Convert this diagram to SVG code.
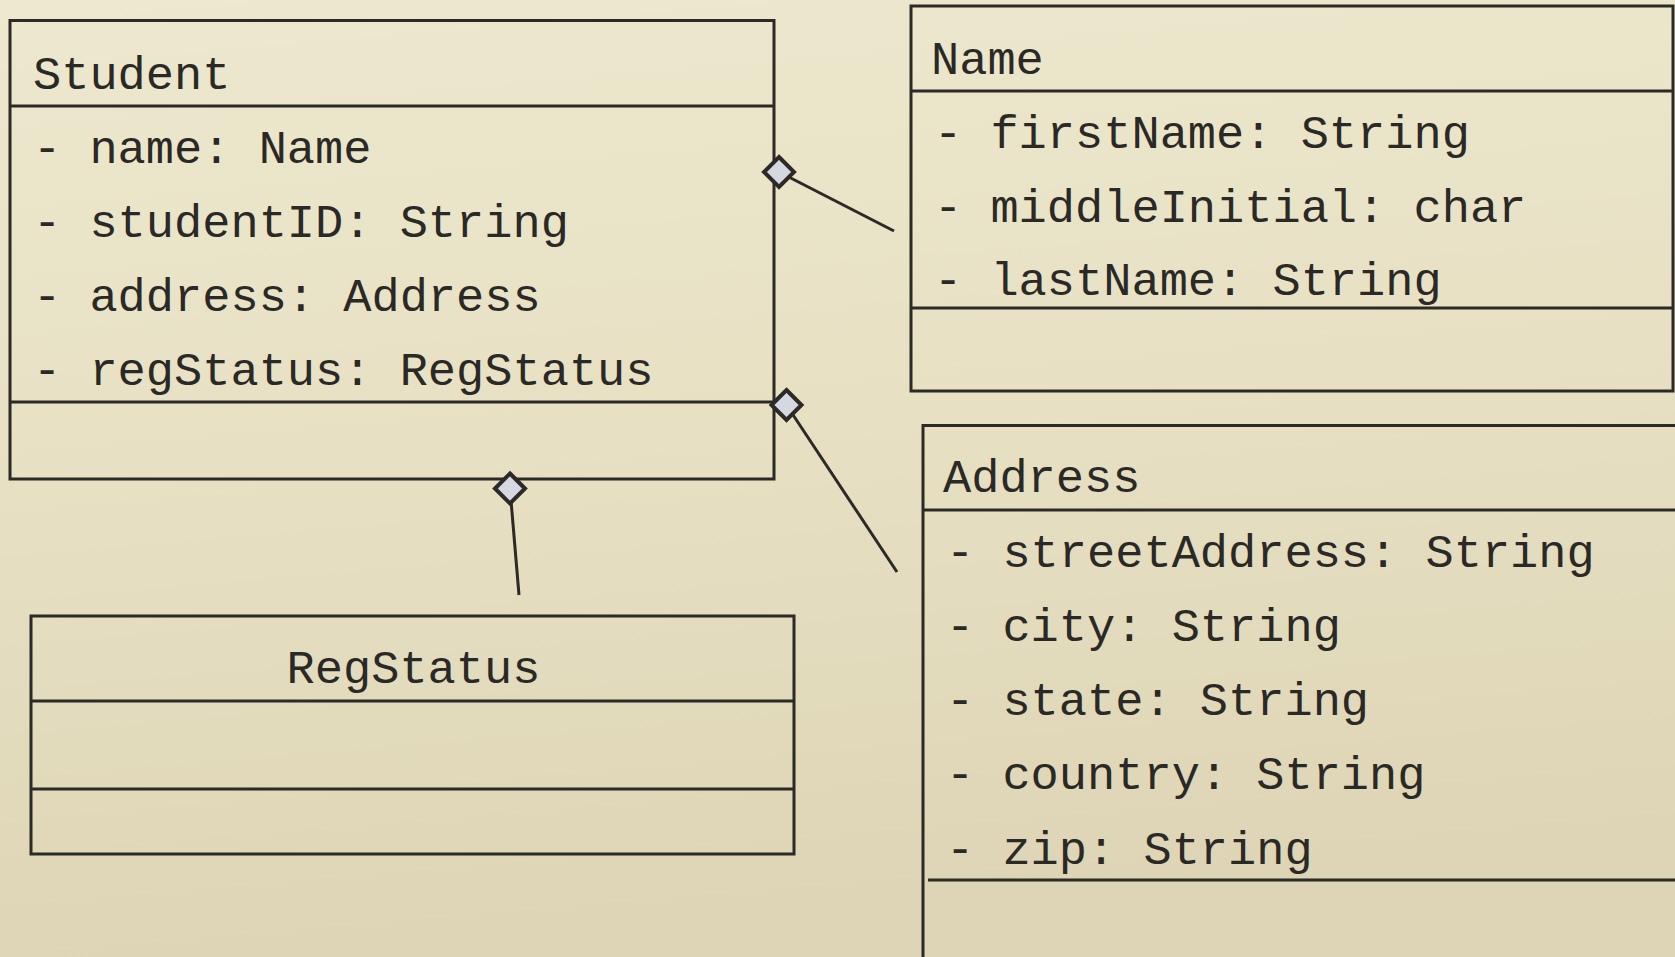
<svg xmlns="http://www.w3.org/2000/svg" width="1675" height="957" viewBox="0 0 1675 957">
  <defs>
    <linearGradient id="bg" x1="0" y1="0" x2="0.15" y2="1">
      <stop offset="0" stop-color="#ede8ce"/>
      <stop offset="0.5" stop-color="#e7e0c3"/>
      <stop offset="1" stop-color="#ddd5b5"/>
    </linearGradient>
    <style>
      .box { fill: none; stroke: #2b2a26; stroke-width: 3; }
      .div { stroke: #2b2a26; stroke-width: 3; }
      .t { font-family: "Liberation Mono", "Courier New", monospace; font-size: 47px; fill: #2a2926; }
      .conn { stroke: #2b2a26; stroke-width: 3; fill: none; }
      .dia { fill: #d5d8e1; stroke: #2b2a26; stroke-width: 4; stroke-linejoin: miter; }
    </style>
  </defs>
  <rect x="0" y="0" width="1675" height="957" fill="url(#bg)"/>

  <g id="connectors">
    <line class="conn" x1="779" y1="172" x2="894" y2="231"/>
    <line class="conn" x1="786.5" y1="405" x2="897" y2="572"/>
    <line class="conn" x1="510" y1="488.5" x2="519" y2="595"/>
  </g>

  <g id="Student">
    <rect class="box" x="10" y="20.5" width="764" height="458.5"/>
    <line class="div" x1="10" y1="106" x2="774" y2="106"/>
    <line class="div" x1="10" y1="402" x2="774" y2="402"/>
    <text class="t" x="33" y="89">Student</text>
    <text class="t" x="33" y="163">- name: Name</text>
    <text class="t" x="33" y="237">- studentID: String</text>
    <text class="t" x="33" y="311">- address: Address</text>
    <text class="t" x="33" y="385">- regStatus: RegStatus</text>
  </g>

  <g id="Name">
    <rect class="box" x="911" y="6" width="762" height="385"/>
    <line class="div" x1="911" y1="91" x2="1673" y2="91"/>
    <line class="div" x1="911" y1="308" x2="1673" y2="308"/>
    <text class="t" x="931" y="74">Name</text>
    <text class="t" x="934" y="148">- firstName: String</text>
    <text class="t" x="934" y="222">- middleInitial: char</text>
    <text class="t" x="934" y="295">- lastName: String</text>
  </g>

  <g id="Address">
    <rect class="box" x="923" y="425.5" width="780" height="560"/>
    <line class="div" x1="923" y1="510" x2="1680" y2="510"/>
    <line class="div" x1="928" y1="880" x2="1680" y2="880"/>
    <text class="t" x="943" y="492">Address</text>
    <text class="t" x="946" y="567">- streetAddress: String</text>
    <text class="t" x="946" y="641">- city: String</text>
    <text class="t" x="946" y="715">- state: String</text>
    <text class="t" x="946" y="789">- country: String</text>
    <text class="t" x="946" y="864">- zip: String</text>
  </g>

  <g id="RegStatus">
    <rect class="box" x="31" y="616" width="763" height="238"/>
    <line class="div" x1="31" y1="701" x2="794" y2="701"/>
    <line class="div" x1="31" y1="789" x2="794" y2="789"/>
    <text class="t" x="413.5" y="683" text-anchor="middle">RegStatus</text>
  </g>

  <g id="diamonds">
    <polygon class="dia" points="779,157 794,172 779,187 764,172"/>
    <polygon class="dia" points="786.5,390 801.5,405 786.5,420 771.5,405"/>
    <polygon class="dia" points="510,473.5 525,488.5 510,503.5 495,488.5"/>
  </g>
</svg>
